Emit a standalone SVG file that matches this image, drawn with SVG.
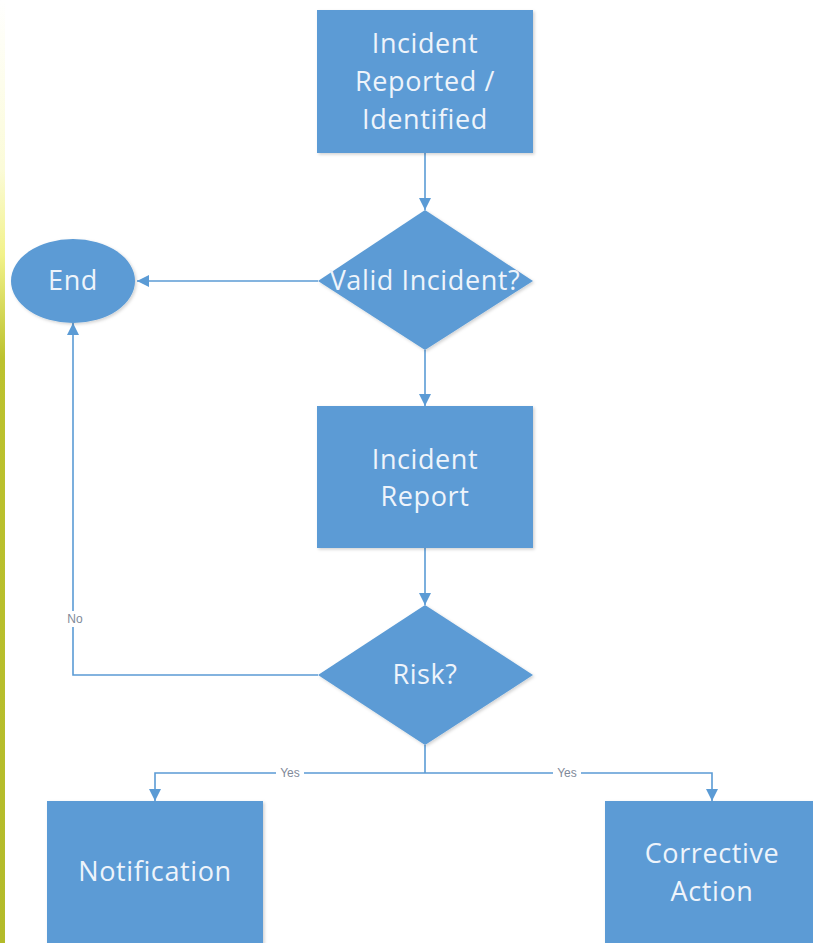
<svg xmlns="http://www.w3.org/2000/svg" width="813" height="943" viewBox="0 0 813 943">
<defs>
<linearGradient id="strip" x1="0" y1="0" x2="0" y2="1">
<stop offset="0" stop-color="#ffffff"/>
<stop offset="0.18" stop-color="#fbfbd8"/>
<stop offset="0.27" stop-color="#f2f28a"/>
<stop offset="0.38" stop-color="#bcc22e"/>
<stop offset="1" stop-color="#b3bb2a"/>
</linearGradient>
<filter id="sh" x="-10%" y="-10%" width="125%" height="125%">
<feDropShadow dx="1.5" dy="1.5" stdDeviation="1.5" flood-color="#000" flood-opacity="0.18"/>
</filter>
<marker id="arr" viewBox="0 0 12 12" refX="12" refY="6" markerWidth="12" markerHeight="13" markerUnits="userSpaceOnUse" orient="auto">
<path d="M0,0 L12,6 L0,12 Z" fill="#5b9bd5"/>
</marker>
</defs>
<style>
.shape{fill:#5b9bd5;filter:url(#sh)}
.t{font-family:"Open Sans","Liberation Sans",sans-serif;font-size:27px;letter-spacing:0.6px;fill:#eef4fb;text-anchor:middle}
.c{fill:none;stroke:#5b9bd5;stroke-width:1.6}
.lbl{font-family:"Liberation Sans","Open Sans",sans-serif;font-size:12px;fill:#7f8a99;text-anchor:middle}
</style>
<rect width="813" height="943" fill="#ffffff"/>
<rect x="0" y="0" width="5" height="943" fill="url(#strip)"/>

<g id="connectors">
<line class="c" x1="425" y1="153" x2="425" y2="210" marker-end="url(#arr)"/>
<line class="c" x1="318" y1="281" x2="137" y2="281" marker-end="url(#arr)"/>
<line class="c" x1="425" y1="350" x2="425" y2="406" marker-end="url(#arr)"/>
<line class="c" x1="425" y1="548" x2="425" y2="605" marker-end="url(#arr)"/>
<polyline class="c" points="318,675 73,675 73,323" marker-end="url(#arr)"/>
<polyline class="c" points="425,745 425,773"/>
<polyline class="c" points="425,773 155,773 155,801" marker-end="url(#arr)"/>
<polyline class="c" points="425,773 712,773 712,801" marker-end="url(#arr)"/>
<rect x="63" y="611" width="24" height="16" fill="#ffffff"/>
<text class="lbl" x="75" y="623">No</text>
<rect x="276" y="766" width="28" height="14" fill="#ffffff"/>
<text class="lbl" x="290" y="777">Yes</text>
<rect x="553" y="766" width="28" height="14" fill="#ffffff"/>
<text class="lbl" x="567" y="777">Yes</text>
</g>

<g id="incident-reported">
<rect class="shape" x="317" y="10" width="216" height="143"/>
<text class="t" x="425" y="53">Incident</text>
<text class="t" x="425" y="91">Reported /</text>
<text class="t" x="425" y="129">Identified</text>
</g>

<g id="valid-incident">
<polygon class="shape" points="425,210 533,281 425,350 318,281"/>
<text class="t" x="425" y="290">Valid Incident?</text>
</g>

<g id="end">
<ellipse class="shape" cx="73" cy="281" rx="62" ry="42"/>
<text class="t" x="73" y="290">End</text>
</g>

<g id="incident-report">
<rect class="shape" x="317" y="406" width="216" height="142"/>
<text class="t" x="425" y="469">Incident</text>
<text class="t" x="425" y="506">Report</text>
</g>

<g id="risk">
<polygon class="shape" points="425,605 533,675 425,745 318,675"/>
<text class="t" x="425" y="684">Risk?</text>
</g>

<g id="notification">
<rect class="shape" x="47" y="801" width="216" height="150"/>
<text class="t" x="155" y="881">Notification</text>
</g>

<g id="corrective-action">
<rect class="shape" x="605" y="801" width="216" height="150"/>
<text class="t" x="712" y="863">Corrective</text>
<text class="t" x="712" y="901">Action</text>
</g>
</svg>
